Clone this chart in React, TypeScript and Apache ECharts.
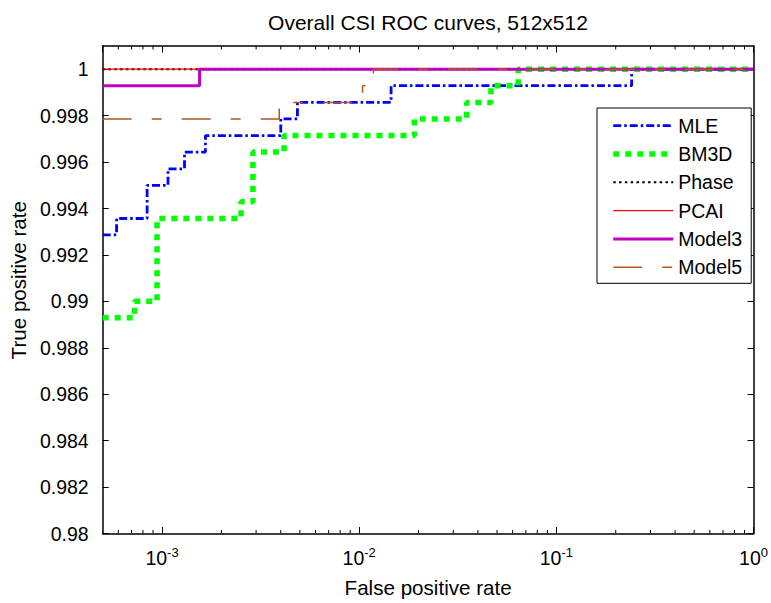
import React, { useEffect, useRef } from 'react';
import * as echarts from 'echarts';

const FONT = '"Liberation Sans", Arial, Helvetica, sans-serif';

const titleText = 'Overall CSI ROC curves, 512x512';
const xName = 'False positive rate';
const yName = 'True positive rate';

const seriesNames = ['MLE', 'BM3D', 'Phase', 'PCAI', 'Model3', 'Model5'];

// Step curves: each point starts a horizontal run at that TPR level
const mleFpr = [5e-4, 5.88e-4, 8.4e-4, 1.072e-3, 1.3e-3, 1.66e-3, 4.0e-3, 4.86e-3, 0.01451, 0.2409, 1];
const mleTpr = [0.99286, 0.99357, 0.995, 0.99571, 0.99643, 0.99714, 0.99786, 0.99857, 0.99929, 1, 1];

const bm3dFpr = [5e-4, 7.25e-4, 9.43e-4, 2.515e-3, 2.89e-3, 4.16e-3, 0.01903, 0.0351, 0.0466, 0.064, 1];
const bm3dTpr = [0.98929, 0.99, 0.99357, 0.99429, 0.99643, 0.99714, 0.99786, 0.99857, 0.99929, 1, 1];

const phaseFpr = [5e-4, 1];
const phaseTpr = [1, 1];

const pcaiFpr = [5e-4, 1];
const pcaiTpr = [1, 1];

const model3Fpr = [5e-4, 1.55e-3, 1];
const model3Tpr = [0.99929, 1, 1];

const model5Fpr = [5e-4, 3.93e-3, 0.0104, 0.0118, 1];
const model5Tpr = [0.99786, 0.99857, 0.99929, 1, 1];

const yTicks = [0.98, 0.982, 0.984, 0.986, 0.988, 0.99, 0.992, 0.994, 0.996, 0.998, 1];
const xMinorTicks = [
  6e-4, 7e-4, 8e-4, 9e-4,
  2e-3, 3e-3, 4e-3, 5e-3, 6e-3, 7e-3, 8e-3, 9e-3,
  2e-2, 3e-2, 4e-2, 5e-2, 6e-2, 7e-2, 8e-2, 9e-2,
  0.2, 0.3, 0.4, 0.5, 0.6, 0.7, 0.8, 0.9,
];

function stepSeries(name: string, xs: number[], ys: number[], color: string, width: number, dash: any, z: number) {
  return {
    name,
    type: 'line',
    step: 'end',
    data: xs.map((x, i) => [x, ys[i]]),
    symbol: 'none',
    showSymbol: false,
    silent: true,
    z,
    lineStyle: { color, width, type: dash, cap: 'butt' },
    itemStyle: { color },
  };
}

function decadeLabel(v: number) {
  const l = Math.log10(v);
  const e = Math.round(l);
  if (Math.abs(l - e) > 1e-6) return '';
  return `{b|10}{s|${e}}`;
}

const richLabel = {
  b: { fontFamily: FONT, fontSize: 19.5, color: '#000', lineHeight: 22, verticalAlign: 'bottom' },
  s: { fontFamily: FONT, fontSize: 13, color: '#000', lineHeight: 13, verticalAlign: 'top' },
};

export default function App() {
  const ref = useRef<HTMLDivElement>(null);
  useEffect(() => {
    if (!ref.current) return;
    const chart = echarts.init(ref.current, undefined, { renderer: 'svg' });
    const axisLine = { show: true, onZero: false, lineStyle: { color: '#000', width: 1.5 } };
    const xCommon = {
      type: 'log',
      logBase: 10,
      min: 5e-4,
      max: 1,
      splitLine: { show: false },
      axisLine,
      axisTick: { show: true, inside: true, length: 6.5, lineStyle: { color: '#000', width: 1 } },
    };
    const yCommon = {
      type: 'value',
      min: 0.98,
      max: 1.001,
      interval: 0.002,
      splitLine: { show: false },
      axisLine,
      axisTick: { show: true, inside: true, length: 6, customValues: yTicks, lineStyle: { color: '#000', width: 1 } },
    };
    chart.setOption({
      animation: false,
      backgroundColor: '#fff',
      title: {
        text: titleText,
        left: 428,
        top: 12,
        textAlign: 'center',
        padding: 0,
        textStyle: { fontFamily: FONT, fontSize: 21, fontWeight: 'normal', color: '#000' },
      },
      grid: { left: 101, right: 17, top: 46, bottom: 66, containLabel: false },
      xAxis: [
        {
          ...xCommon,
          position: 'bottom',
          name: xName,
          nameLocation: 'middle',
          nameGap: 43.5,
          nameTextStyle: { fontFamily: FONT, fontSize: 20.6, color: '#000' },
          axisLabel: {
            show: true,
            margin: 12.5,
            showMinLabel: false,
            formatter: decadeLabel,
            rich: richLabel,
            color: '#000',
          },
        },
        { ...xCommon, position: 'top', axisLabel: { show: false } },
      ],
      yAxis: [
        {
          ...yCommon,
          position: 'left',
          name: yName,
          nameLocation: 'middle',
          nameGap: 67,
          nameTextStyle: { fontFamily: FONT, fontSize: 20.6, color: '#000', padding: [0, 0, 0, 19] },
          axisLabel: {
            show: true,
            margin: 14,
            customValues: yTicks,
            fontFamily: FONT,
            fontSize: 19.5,
            color: '#000',
            formatter: (v: number) => (v > 1.0005 ? '' : String(Number(v.toFixed(3)))),
          },
        },
        { ...yCommon, position: 'right', axisLabel: { show: false } },
      ],
      legend: {
        data: seriesNames,
        orient: 'vertical',
        left: 597,
        top: 108,
        padding: [7.7, 9, 6.1, 13.5],
        itemWidth: 60,
        itemHeight: 14,
        itemGap: 8.3,
        backgroundColor: '#fff',
        borderColor: '#000',
        borderWidth: 1,
        borderRadius: 0,
        selectedMode: false,
        textStyle: { fontFamily: FONT, fontSize: 19.5, color: '#000', lineHeight: 20 },
        itemStyle: { opacity: 0 },
        lineStyle: { width: 'inherit' },
      },
      series: [
        stepSeries('MLE', mleFpr, mleTpr, '#0000ff', 2.8, [8, 3, 2.5, 3], 2),
        stepSeries('BM3D', bm3dFpr, bm3dTpr, '#00ff00', 5.5, [6, 6], 3),
        stepSeries('Phase', phaseFpr, phaseTpr, '#000000', 2, [2.5, 3.3], 4),
        stepSeries('PCAI', pcaiFpr, pcaiTpr, '#ff0000', 1.2, 'solid', 5),
        stepSeries('Model3', model3Fpr, model3Tpr, '#bf00bf', 3, 'solid', 6),
        stepSeries('Model5', model5Fpr, model5Tpr, '#b3561f', 1.5, [29, 20, 10, 20], 7),
        {
          type: 'custom',
          name: 'minorTicks',
          silent: true,
          z: 8,
          clip: false,
          data: xMinorTicks.map((v) => [v, 0.99]),
          encode: { x: 0, y: 1 },
          renderItem: (params: any, api: any) => {
            const x = api.coord([api.value(0), api.value(1)])[0];
            const cs = params.coordSys;
            const top = cs.y;
            const bottom = cs.y + cs.height;
            const style = { stroke: '#000', lineWidth: 1 };
            return {
              type: 'group',
              children: [
                { type: 'line', shape: { x1: x, y1: bottom, x2: x, y2: bottom - 3.5 }, style },
                { type: 'line', shape: { x1: x, y1: top, x2: x, y2: top + 3.5 }, style },
              ],
            };
          },
        },
      ],
    });
    return () => chart.dispose();
  }, []);
  return (
    <div
      ref={ref}
      style={{ position: 'fixed', left: 0, top: 0, width: 771, height: 603, background: '#fff' }}
    />
  );
}
